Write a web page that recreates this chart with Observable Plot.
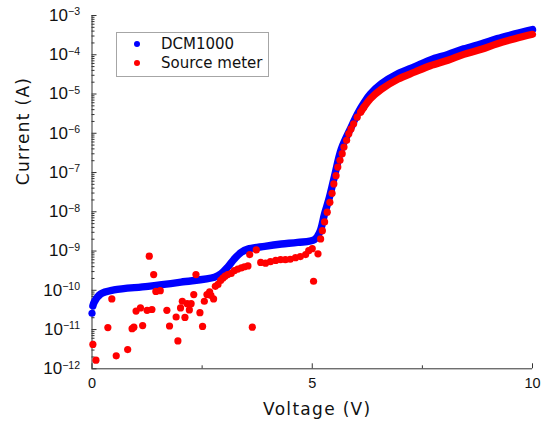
<!DOCTYPE html>
<html><head><meta charset="utf-8">
<script src="https://cdn.jsdelivr.net/npm/d3@7"></script>
<script src="https://cdn.jsdelivr.net/npm/@observablehq/plot@0.6"></script>
<style>
body{margin:0;background:#fff;}
#wrap{position:relative;width:544px;height:425px;overflow:hidden;}
#legend{position:absolute;left:116px;top:32px;width:151px;height:43px;border:1px solid #a6a6a6;background:#fff;font-family:"DejaVu Sans",sans-serif;font-size:15px;color:#111;}
#legend .dot{position:absolute;left:17px;width:6px;height:6px;border-radius:50%;}
#legend .lab{position:absolute;left:44px;height:18px;line-height:18px;white-space:nowrap;}
</style>
</head><body>
<div id="wrap">
<div id="chart"></div>
<div id="legend">
  <div class="dot" style="top:8px;background:#0000ff"></div><div class="lab" style="top:2px">DCM1000</div>
  <div class="dot" style="top:27px;background:#ff0000"></div><div class="lab" style="top:21px">Source meter</div>
</div>
</div>
<script>
// DCM1000 (blue) readings
const blueVoltage = [0.02,0.05,0.2,0.5,1.27,2.02,2.78,2.93,3.08,3.23,3.39,3.54,3.92,4.30,4.67,5.05,5.17,5.28,5.39,5.50,5.66,5.89,6.02,6.19,6.32,6.57,6.95,7.33,7.68,8.08,8.44,8.84,9.20,9.60,10.0];
const blueCurrent = [4.0e-11,5.0e-11,8.1e-11,1.02e-10,1.26e-10,1.62e-10,2.14e-10,2.63e-10,3.89e-10,6.31e-10,9.33e-10,1.12e-9,1.32e-9,1.51e-9,1.66e-9,1.95e-9,3.02e-9,8.9e-9,2.34e-8,7.6e-8,3.98e-7,1.48e-6,3.02e-6,6.31e-6,1.0e-5,1.82e-5,3.31e-5,5.01e-5,7.41e-5,1.02e-4,1.41e-4,1.91e-4,2.57e-4,3.39e-4,4.37e-4];
const blueFirstVoltage = [0];
const blueFirstCurrent = [2.6e-11];

// Source meter (red) individual readings
const redVoltage = [0.02,0.09,0.36,0.45,0.55,0.81,0.91,0.95,1.00,1.10,1.15,1.25,1.30,1.36,1.40,1.45,1.55,1.70,1.76,1.91,1.95,2.01,2.05,2.11,2.16,2.21,2.25,2.31,2.36,2.45,2.51,2.55,2.61,2.67,2.70,2.76,2.80,2.86,2.92,2.97,3.02,3.08,3.16,3.23,3.31,3.39,3.46,3.54,3.58,3.64,3.73,3.83,3.94,4.05,4.17,4.28,4.39,4.50,4.62,4.73,4.85,4.92,5.00,5.03,5.13,5.19,5.23,5.28,5.34,5.40,5.45,5.49,5.54,5.58,5.63,5.68,5.72,5.78,5.83,5.88,5.94,6.02,6.10,6.17];
const redCurrent = [4.17e-12,1.66e-12,1.12e-11,6.03e-11,2.14e-12,3.09e-12,1.05e-11,1.15e-11,2.95e-11,3.55e-11,1.26e-11,3.09e-11,7.41e-10,3.24e-11,2.51e-10,9.33e-11,9.77e-11,3.09e-11,1.23e-11,2.09e-11,5.13e-12,3.55e-11,5.25e-11,2.04e-11,4.57e-11,3.16e-11,4.57e-11,7.76e-11,2.51e-10,2.69e-11,1.20e-11,5.25e-11,7.76e-11,9.12e-11,7.41e-11,6.03e-11,1.26e-10,1.41e-10,1.78e-10,2.04e-10,2.29e-10,2.51e-10,2.69e-10,3.16e-10,3.47e-10,3.72e-10,3.98e-10,4.17e-10,8.13e-10,1.15e-11,1.07e-9,5.13e-10,4.90e-10,5.37e-10,5.75e-10,6.03e-10,6.03e-10,6.17e-10,6.76e-10,7.24e-10,8.13e-10,1.02e-9,1.15e-9,1.70e-10,8.51e-10,2.04e-9,3.31e-9,5.50e-9,9.77e-9,1.74e-8,2.95e-8,5.13e-8,8.32e-8,1.38e-7,2.04e-7,3.02e-7,4.47e-7,6.61e-7,9.77e-7,1.29e-6,1.74e-6,2.57e-6,3.47e-6,4.57e-6];
// Source meter dense tail (dots merge into a band)
const redTailVoltage = [6.10,6.17,6.32,6.57,6.95,7.33,7.68,8.08,8.44,8.84,9.20,9.60,10.0];
const redTailCurrent = [3.47e-6,4.57e-6,7.59e-6,1.32e-5,2.40e-5,3.63e-5,5.25e-5,7.24e-5,1.02e-4,1.38e-4,1.91e-4,2.57e-4,3.31e-4];

const xMajor = [0,5,10];
const xTickLabels = ["0","5","10"];
const xMinor = [2.5,7.5];
const yMajor = [1e-12,1e-11,1e-10,1e-9,1e-8,1e-7,1e-6,1e-5,1e-4,1e-3];
const yTickExponents = ["\u221212","\u221211","\u221210","\u22129","\u22128","\u22127","\u22126","\u22125","\u22124","\u22123"];

const W = 544, Hh = 425, mL = 91.5, mR = 12, mT = 15, mB = 56.7;
const fw = W - mL - mR, fh = Hh - mT - mB;
const yMinor = d3.scaleLog().domain([1e-12,1e-3]).ticks().filter(v => !yMajor.some(m => Math.abs(m - v) / m < 1e-6));

const blue = blueVoltage.map((v,i)=>({v, c: blueCurrent[i]}));
const blue0 = blueFirstVoltage.map((v,i)=>({v, c: blueFirstCurrent[i]}));
const red = redVoltage.map((v,i)=>({v, c: redCurrent[i]}));
const redTail = redTailVoltage.map((v,i)=>({v, c: redTailCurrent[i]}));
const axisColor = "#333";
const tickFont = "Liberation Sans, Arial, sans-serif";
const titleFont = "DejaVu Sans, sans-serif";

const svg = Plot.plot({
  width: W, height: Hh,
  marginLeft: mL, marginRight: mR, marginTop: mT, marginBottom: mB,
  x: {domain: [0,10], axis: null},
  y: {type: "log", domain: [1e-12,1e-3], axis: null},
  style: {background: "white", overflow: "visible"},
  marks: [
    Plot.ruleX([0], {stroke: axisColor}),
    Plot.ruleY([1e-12], {stroke: axisColor}),
    Plot.tickY(yMajor, {y: d=>d, insetRight: fw - 5, stroke: axisColor}),
    Plot.tickY(yMinor, {y: d=>d, insetRight: fw - 3, stroke: axisColor}),
    Plot.tickX(xMajor, {x: d=>d, insetTop: fh - 5, stroke: axisColor}),
    Plot.tickX(xMinor, {x: d=>d, insetTop: fh - 3, stroke: axisColor}),
    Plot.line(blue, {x: "v", y: "c", stroke: "#0000ff", strokeWidth: 7.4, curve: "catmull-rom", strokeLinecap: "round", strokeLinejoin: "round"}),
    Plot.dot(blue0, {x: "v", y: "c", r: 3.6, fill: "#0000ff"}),
    Plot.line(redTail, {x: "v", y: "c", stroke: "#ff0000", strokeWidth: 7.2, curve: "catmull-rom", strokeLinecap: "round", strokeLinejoin: "round"}),
    Plot.dot(red, {x: "v", y: "c", r: 3.6, fill: "#ff0000"}),
    Plot.text(yMajor, {y: d=>d, frameAnchor: "left", dx: -12, textAnchor: "end", text: (d,i)=>"10^" + yTickExponents[i], fontSize: 17, fontFamily: tickFont, fill: "#111"}),
    Plot.text(xMajor, {x: d=>d, frameAnchor: "bottom", dy: 19, text: (d,i)=>xTickLabels[i], fontSize: 14.5, fontFamily: tickFont, fill: "#111"}),
    Plot.text(["Voltage (V)"], {frameAnchor: "bottom", dx: 5, dy: 46, text: d=>d, fontSize: 17, fontFamily: titleFont, fill: "#111"}),
    Plot.text(["Current (A)"], {frameAnchor: "left", dx: -68.5, dy: -7, rotate: -90, text: d=>d, fontSize: 17, fontFamily: titleFont, fill: "#111"})
  ]
});

const ns = "http://www.w3.org/2000/svg";
svg.querySelectorAll("text").forEach(t => {
  const s = t.textContent;
  if (s.startsWith("10^")) {
    t.textContent = "";
    const a = document.createElementNS(ns, "tspan"); a.textContent = "10";
    const b = document.createElementNS(ns, "tspan"); b.textContent = s.slice(3);
    b.setAttribute("font-size", "10.5"); b.setAttribute("dy", "-5.5");
    t.append(a, b);
  } else if (s === "Voltage (V)" || s === "Current (A)") {
    t.setAttribute("letter-spacing", "1.3");
  }
});
document.getElementById("chart").appendChild(svg);
</script>
</body></html>
